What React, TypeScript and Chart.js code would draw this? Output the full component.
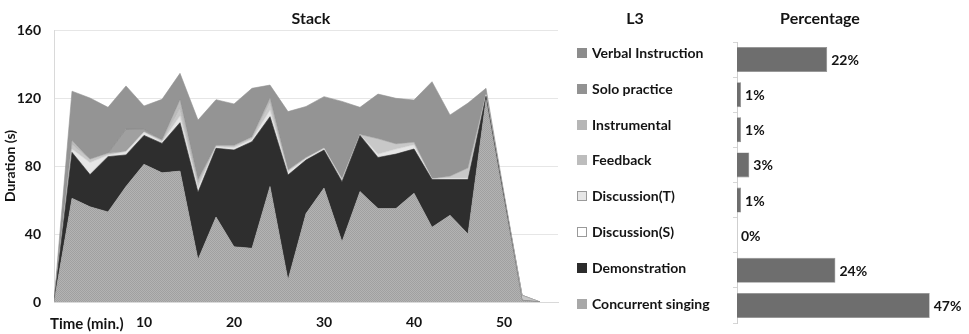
import React, { useEffect, useRef } from 'react';
import { Chart, registerables } from 'chart.js';

Chart.register(...registerables);

const FONT = 'Lato, "Open Sans", sans-serif';
const TEXT = '#141414';

// time in minutes
const times = [0, 2, 4, 6, 8, 10, 12, 14, 16, 18, 20, 22, 24, 26, 28, 30, 32, 34, 36, 38, 40, 42, 44, 46, 48, 50, 52, 54];

// durations (s) per activity, stacked bottom to top
const concurrentSinging = [0, 61, 56, 53, 68, 81, 76, 77, 25, 50, 32.5, 31.6, 68, 13, 52, 67, 35.5, 65, 55, 55, 64, 44, 51, 40, 119, 60, 1, 0];
const demonstration = [0, 27, 19, 32.5, 18.5, 17, 17.3, 28.5, 39.5, 40.4, 56.9, 62.7, 41, 61.7, 31.5, 22.4, 35.3, 33, 30, 32, 26, 28, 21, 32, 2, 1.5, 0, 0];
const discussionS = [0, 0, 1, 0, 0, 0, 0, 0, 0, 0, 0, 0, 0, 0, 0, 0, 0, 0, 0.5, 0, 0, 0, 0, 0, 0, 0, 0, 0];
const discussionT = [0, 2, 6, 1, 2, 2, 1, 4, 3, 1, 1.5, 1.5, 4, 2, 1, 1.1, 1, 0.5, 1.5, 3, 2.5, 0.5, 1, 1, 1, 1, 0, 0];
const feedback = [0, 3, 2, 1, 0, 0, 1, 5, 3, 0.6, 1.1, 1.2, 5, 0.9, 0.5, 0, 0.9, 0, 9, 3, 1.5, 0, 1, 5.8, 0, 0, 3, 0];
const instrumental = [0, 2, 0, 0, 0, 0, 0, 4.5, 1.5, 0, 0, 0, 2, 0, 0, 0, 0, 0, 0, 0, 0, 0, 0, 0, 0, 0, 0, 0];
const soloPractice = [0, 0, 0, 0, 13.2, 1.6, 0, 0, 0, 0, 0, 0, 0, 0, 0, 0, 0, 0, 0, 0, 0, 0, 0, 0, 0, 0, 0, 0];
const verbalInstruction = [0, 29, 36, 27, 25.4, 13.7, 23.9, 15.5, 35, 27, 24.5, 28.7, 7.6, 34.4, 30, 30.3, 45.3, 16, 26.3, 26.8, 24.8, 57.1, 36, 38.2, 3.7, 1.5, 0, 0];

const legendLabels = ['Verbal Instruction', 'Solo practice', 'Instrumental', 'Feedback', 'Discussion(T)', 'Discussion(S)', 'Demonstration', 'Concurrent singing'];
const percentages = [22, 1, 1, 3, 1, 0, 24, 47];
const yTicks = [0, 40, 80, 120, 160];
const xTicks = [10, 20, 30, 40, 50];

const legendColors = ['#8c8c8c', '#929292', '#b6b6b6', '#bdbdbd', '#e6e6e6', '#ffffff', '#2c2c2c', '#a8a8a8'];

function makePattern(): CanvasPattern | string {
  const c = document.createElement('canvas');
  c.width = 2;
  c.height = 2;
  const g = c.getContext('2d');
  if (!g) return '#aaaaaa';
  g.fillStyle = '#b3b3b3';
  g.fillRect(0, 0, 2, 2);
  g.fillStyle = '#a0a0a0';
  g.fillRect(0, 0, 1, 1);
  g.fillRect(1, 1, 1, 1);
  return g.createPattern(c, 'repeat') || '#aaaaaa';
}

function StackChart() {
  const ref = useRef<HTMLCanvasElement>(null);
  useEffect(() => {
    if (!ref.current) return;
    const pattern = makePattern();
    const series = [
      { label: 'Concurrent singing', data: concurrentSinging, bg: pattern, border: '#9c9c9c' },
      { label: 'Demonstration', data: demonstration, bg: '#2e2e2e', border: '#2e2e2e' },
      { label: 'Discussion(S)', data: discussionS, bg: '#ffffff', border: '#d0d0d0' },
      { label: 'Discussion(T)', data: discussionT, bg: '#e6e6e6', border: '#cccccc' },
      { label: 'Feedback', data: feedback, bg: '#c8c8c8', border: '#aaaaaa' },
      { label: 'Instrumental', data: instrumental, bg: '#bcbcbc', border: '#a0a0a0' },
      { label: 'Solo practice', data: soloPractice, bg: '#a0a0a0', border: '#7c7c7c' },
      { label: 'Verbal Instruction', data: verbalInstruction, bg: '#949494', border: '#949494' },
    ];
    const chart = new Chart(ref.current, {
      type: 'line',
      data: {
        datasets: series.map((s, i) => ({
          label: s.label,
          data: times.map((t, j) => ({ x: t, y: s.data[j] })),
          backgroundColor: s.bg as any,
          borderColor: s.border,
          borderWidth: 0.6,
          pointRadius: 0,
          tension: 0,
          fill: i === 0 ? 'origin' : '-1',
        })),
      },
      options: {
        responsive: false,
        animation: false,
        layout: { padding: { top: 30, right: 7, left: 0, bottom: 0 } },
        plugins: { legend: { display: false }, tooltip: { enabled: false } },
        scales: {
          x: {
            type: 'linear',
            min: 0,
            max: 56,
            afterBuildTicks: (s: any) => {
              s.ticks = xTicks.map((v) => ({ value: v }));
            },
            grid: { display: false, drawTicks: false },
            border: { display: true, color: '#d9d9d9' },
            ticks: { color: TEXT, font: { family: FONT, size: 14, weight: 'bold' }, padding: 12, maxRotation: 0, autoSkip: false },
            afterFit: (s: any) => {
              s.height = 32;
            },
          },
          y: {
            stacked: true,
            min: 0,
            max: 160,
            afterBuildTicks: (s: any) => {
              s.ticks = yTicks.map((v) => ({ value: v }));
            },
            grid: { color: '#e6e6e6', drawTicks: false },
            border: { display: true, color: '#d9d9d9' },
            ticks: { color: TEXT, font: { family: FONT, size: 14, weight: 'bold' }, padding: 13 },
            title: {
              display: true,
              text: 'Duration (s)',
              color: TEXT,
              font: { family: FONT, size: 14, weight: 'bold' },
              padding: { top: 2, bottom: 0 },
            },
            afterFit: (s: any) => {
              s.width = 54;
            },
          },
        },
      },
    });
    return () => chart.destroy();
  }, []);
  return <canvas ref={ref} width={565} height={334} style={{ position: 'absolute', left: 0, top: 0 }} />;
}

function PercentChart() {
  const ref = useRef<HTMLCanvasElement>(null);
  useEffect(() => {
    if (!ref.current) return;
    const valueLabels = {
      id: 'valueLabels',
      afterDatasetsDraw(chart: any) {
        const ctx = chart.ctx;
        const meta = chart.getDatasetMeta(0);
        ctx.save();
        ctx.font = `bold 14px ${FONT}`;
        ctx.fillStyle = TEXT;
        ctx.textAlign = 'left';
        ctx.textBaseline = 'middle';
        meta.data.forEach((bar: any, i: number) => {
          ctx.fillText(`${percentages[i]}%`, bar.x + 4, bar.y + 1);
        });
        ctx.restore();
      },
    };
    const chart = new Chart(ref.current, {
      type: 'bar',
      data: {
        labels: legendLabels,
        datasets: [
          {
            data: percentages,
            backgroundColor: '#6e6e6e',
            borderColor: '#8a8a8a',
            borderWidth: 0.6,
            barPercentage: 0.9,
            categoryPercentage: 0.79,
          },
        ],
      },
      options: {
        indexAxis: 'y',
        responsive: false,
        animation: false,
        layout: { padding: { top: 42, bottom: 11, left: 0, right: 27 } },
        plugins: { legend: { display: false }, tooltip: { enabled: false } },
        scales: {
          x: { display: false, min: 0, max: 50 },
          y: {
            ticks: { display: false },
            grid: { drawOnChartArea: false, drawTicks: true, tickLength: 4, color: '#d6d6d6', offset: true },
            border: { display: true, color: '#cfcfcf' },
            afterFit: (s: any) => {
              s.width = 37;
            },
          },
        },
      },
      plugins: [valueLabels],
    });
    return () => chart.destroy();
  }, []);
  return <canvas ref={ref} width={269} height={334} style={{ position: 'absolute', left: 700, top: 0 }} />;
}

const titleStyle: React.CSSProperties = {
  position: 'absolute',
  transform: 'translate(-50%, -50%)',
  fontFamily: FONT,
  fontWeight: 'bold',
  fontSize: 16,
  color: TEXT,
  whiteSpace: 'nowrap',
  lineHeight: 1,
};

export default function App() {
  return (
    <div style={{ position: 'absolute', left: 0, top: 0, width: 969, height: 334, background: '#ffffff', overflow: 'hidden' }}>
      <StackChart />
      <PercentChart />
      <div style={{ ...titleStyle, left: 311, top: 18 }}>Stack</div>
      <div style={{ ...titleStyle, left: 635, top: 18 }}>L3</div>
      <div style={{ ...titleStyle, left: 820, top: 18 }}>Percentage</div>
      <div
        style={{
          position: 'absolute',
          left: 50,
          top: 323,
          transform: 'translateY(-50%)',
          fontFamily: FONT,
          fontWeight: 'bold',
          fontSize: 15,
          color: TEXT,
          whiteSpace: 'nowrap',
          lineHeight: 1,
        }}
      >
        Time (min.)
      </div>
      {legendLabels.map((label, i) => (
        <div
          key={label}
          style={{
            position: 'absolute',
            left: 577,
            top: 53 + i * 35.8,
            transform: 'translateY(-50%)',
            display: 'flex',
            alignItems: 'center',
            fontFamily: FONT,
            fontWeight: 'bold',
            fontSize: 14,
            color: TEXT,
            whiteSpace: 'nowrap',
            lineHeight: 1,
          }}
        >
          <span
            style={{
              display: 'inline-block',
              width: 10,
              height: 10,
              boxSizing: 'border-box',
              background: legendColors[i],
              border: i === 4 || i === 5 ? '1px solid #9a9a9a' : 'none',
              marginRight: 5,
            }}
          />
          {label}
        </div>
      ))}
    </div>
  );
}
